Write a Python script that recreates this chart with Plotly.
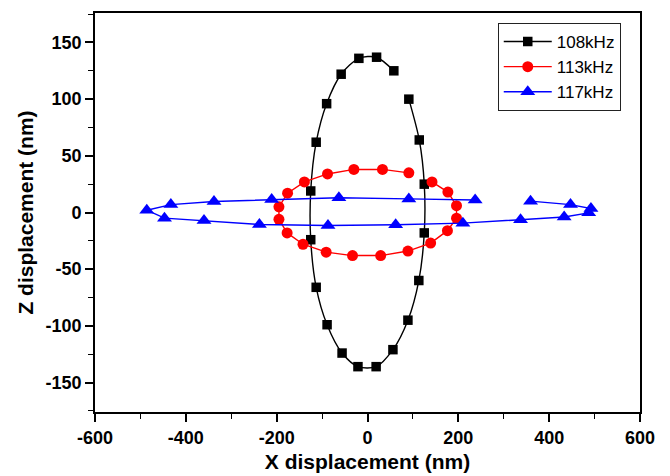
import plotly.graph_objects as go

# 108 kHz (black squares)
x108 = [91, 114, 125, 125, 113, 89, 56, 19, -21, -56, -89, -113, -125, -125, -113, -90, -58, -19, 20, 58]
y108 = [100, 64, 25, -18, -60, -95, -121, -136, -136, -124, -99, -66, -24, 19, 62, 96, 122, 136, 137, 125]

# 113 kHz (red circles)
x113 = [142, 177, 196, 196, 176, 139, 89, 29, -33, -91, -142, -177, -195, -195, -176, -139, -88, -30, 33, 91]
y113 = [27, 18, 6, -5, -16, -27, -34, -38, -38, -35, -28, -18, -6, 5, 17, 27, 34, 38, 38, 35]

# 117 kHz (blue triangles)
x117 = [359, 447, 492, 487, 433, 337, 210, 62, -87, -238, -360, -447, -486, -433, -338, -211, -63, 91, 237]
y117 = [10, 7, 3.5, -0.3, -4, -6.5, -9.4, -10.8, -11.5, -10.6, -7, -5, 2, 7, 9.7, 11.4, 13, 12, 11]

names = ["108kHz", "113kHz", "117kHz"]
xticks = [-600, -400, -200, 0, 200, 400, 600]
xtick_labels = ["-600", "-400", "-200", "0", "200", "400", "600"]
yticks = [-150, -100, -50, 0, 50, 100, 150]
ytick_labels = ["-150", "-100", "-50", "0", "50", "100", "150"]

FONT = "Liberation Sans, Arial, sans-serif"

fig = go.Figure()
fig.add_trace(go.Scatter(x=x108, y=y108, name=names[0], mode="lines+markers",
                         line=dict(color="#000000", width=1.4, shape="spline", smoothing=0.8),
                         marker=dict(symbol="square", size=9.5, color="#000000")))
fig.add_trace(go.Scatter(x=x113, y=y113, name=names[1], mode="lines+markers",
                         line=dict(color="#ff0000", width=1.4),
                         marker=dict(symbol="circle", size=11, color="#ff0000")))
fig.add_trace(go.Scatter(x=x117, y=y117, name=names[2], mode="lines+markers",
                         line=dict(color="#0000ff", width=1.4),
                         marker=dict(symbol="triangle-up", size=13, color="#0000ff")))

axis_common = dict(
    showline=True, linecolor="black", linewidth=1.8, mirror=True,
    showgrid=False, zeroline=False,
    ticks="outside", ticklen=8, tickwidth=1.5, tickcolor="black",
    tickfont=dict(family=FONT, size=18, color="black"),
)

fig.update_xaxes(range=[-600, 600], tickvals=xticks,
                 ticktext=["<b>%s</b>" % t for t in xtick_labels],
                 minor=dict(dtick=100, ticks="outside", ticklen=5, tickcolor="black", tickwidth=1.3),
                 title=dict(text="<b>X displacement (nm)</b>", standoff=8,
                            font=dict(family=FONT, size=21, color="black")),
                 **axis_common)
fig.update_yaxes(range=[-176, 176], tickvals=yticks,
                 ticktext=["<b>%s</b>" % t for t in ytick_labels],
                 minor=dict(dtick=25, ticks="outside", ticklen=5, tickcolor="black", tickwidth=1.3),
                 title=dict(text="<b>Z displacement (nm)</b>", standoff=6,
                            font=dict(family=FONT, size=21, color="black")),
                 **axis_common)

fig.update_layout(
    width=662, height=468,
    margin=dict(l=87, r=30, t=5, b=64, autoexpand=False),
    plot_bgcolor="white", paper_bgcolor="white",
    font=dict(family=FONT, color="black"),
    legend=dict(x=0.739, y=0.975, xanchor="left", yanchor="top",
                bordercolor="#222222", borderwidth=1, bgcolor="white",
                font=dict(size=17, family=FONT),
                itemwidth=48, tracegroupgap=0),
    showlegend=True,
)

fig.write_html("out.html")
